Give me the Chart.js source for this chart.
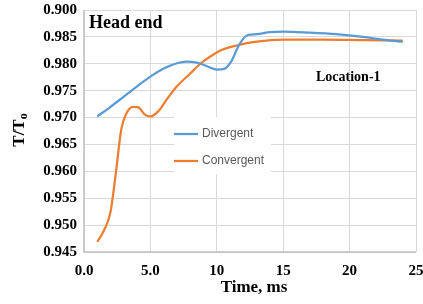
<!DOCTYPE html>
<html>
<head>
<meta charset="utf-8">
<script src="https://cdn.jsdelivr.net/npm/chart.js@4/dist/chart.umd.min.js"></script>
<style>
html,body{margin:0;padding:0;background:#fff;}
#wrap{width:423px;height:304px;position:relative;}
</style>
</head>
<body>
<div id="wrap"><canvas id="c" width="423" height="304"></canvas></div>
<script>
// Data
const divergentX = [1.0, 2.0, 3.0, 4.0, 5.0, 6.0, 7.0, 7.7, 8.5, 9.3, 10.0, 10.6, 11.1, 11.7, 12.3, 13.0, 14.0, 15.0, 17.0, 19.0, 21.0, 22.5, 24.0];
const divergentY = [0.9702, 0.9720, 0.9739, 0.9758, 0.9776, 0.9791, 0.9801, 0.9804, 0.9802, 0.9795, 0.9789, 0.9791, 0.9805, 0.9836, 0.9853, 0.9855, 0.9859, 0.9860, 0.9858, 0.9855, 0.9850, 0.9845, 0.9841];
const convergentX = [1.0, 1.5, 2.0, 2.4, 2.8, 3.2, 3.7, 4.1, 4.6, 5.0, 5.6, 6.3, 7.0, 8.0, 8.8, 9.6, 10.4, 11.5, 13.0, 15.0, 18.0, 21.0, 24.0];
const convergentY = [0.9469, 0.9490, 0.9525, 0.9597, 0.9677, 0.9708, 0.9720, 0.9719, 0.9705, 0.9702, 0.9712, 0.9736, 0.9758, 0.9782, 0.9801, 0.9815, 0.9826, 0.9834, 0.9841, 0.9845, 0.9845, 0.9844, 0.9843];
const seriesNames = ["Divergent", "Convergent"];
const xTickLabels = ["0.0", "5.0", "10", "15", "20", "25"];
const yTickLabels = ["0.945", "0.950", "0.955", "0.960", "0.965", "0.970", "0.975", "0.980", "0.985", "0.900"];
const chartTitle = "Head end";
const locationLabel = "Location-1";
const xTitle = "Time, ms";

const BLUE = "#5b9bd5", ORANGE = "#ed7d31";
const toPts = (xs, ys) => xs.map((x, i) => ({x: x, y: ys[i]}));

const overlay = {
  id: "overlay",
  afterDraw(chart) {
    const ctx = chart.ctx, a = chart.chartArea;
    ctx.save();
    ctx.strokeStyle = "#bfbfbf"; ctx.lineWidth = 1.5;
    ctx.beginPath();
    ctx.moveTo(a.left, a.top); ctx.lineTo(a.left, a.bottom); ctx.lineTo(a.right, a.bottom);
    ctx.stroke();
    ctx.fillStyle = "#000";
    ctx.textBaseline = "middle"; ctx.textAlign = "left";
    ctx.font = "bold 18px 'Liberation Serif'";
    ctx.fillText(chartTitle, a.left + 5, 23);
    ctx.font = "bold 14px 'Liberation Serif'";
    ctx.fillText(locationLabel, 316, 77);
    ctx.textAlign = "center";
    ctx.font = "bold 17px 'Liberation Serif'";
    ctx.fillText(xTitle, 254, 288);
    ctx.save();
    ctx.translate(20, 130);
    ctx.rotate(-Math.PI / 2);
    ctx.font = "bold 17px 'Liberation Serif'";
    ctx.textAlign = "left";
    const main = "T/T";
    const w = ctx.measureText(main).width;
    ctx.font = "bold 12px 'Liberation Serif'";
    const sw = ctx.measureText("o").width;
    const start = -(w + sw) / 2;
    ctx.font = "bold 17px 'Liberation Serif'";
    ctx.fillText(main, start, 0);
    ctx.font = "bold 12px 'Liberation Serif'";
    ctx.fillText("o", start + w, 4);
    ctx.restore();
    ctx.fillStyle = "#fff";
    ctx.fillRect(174, 117, 97, 57);
    const items = [[seriesNames[0], BLUE, 134], [seriesNames[1], ORANGE, 161]];
    ctx.textAlign = "left";
    ctx.font = "12px 'Liberation Sans'";
    items.forEach(([t, col, y]) => {
      ctx.strokeStyle = col; ctx.lineWidth = 2.25;
      ctx.beginPath(); ctx.moveTo(174, y); ctx.lineTo(198, y); ctx.stroke();
      ctx.fillStyle = "#595959";
      ctx.fillText(t, 202, y);
    });
    ctx.restore();
  }
};

new Chart(document.getElementById("c"), {
  type: "line",
  data: {
    datasets: [
      {label: seriesNames[0], data: toPts(divergentX, divergentY), borderColor: BLUE, borderWidth: 2.25, pointRadius: 0, cubicInterpolationMode: "monotone", fill: false},
      {label: seriesNames[1], data: toPts(convergentX, convergentY), borderColor: ORANGE, borderWidth: 2.25, pointRadius: 0, cubicInterpolationMode: "monotone", fill: false}
    ]
  },
  options: {
    responsive: false,
    animation: false,
    devicePixelRatio: 1,
    layout: {padding: {top: 10, right: 7, left: 0, bottom: 0}},
    plugins: {legend: {display: false}, tooltip: {enabled: false}},
    scales: {
      x: {
        type: "linear", min: 0, max: 25,
        afterFit(s) { s.height = 52; s.paddingLeft = 0; s.paddingRight = 0; },
        border: {display: false},
        grid: {color: "#d9d9d9", lineWidth: 1, drawTicks: false},
        ticks: {
          stepSize: 5, padding: 10, color: "#000", maxRotation: 0,
          font: {family: "'Liberation Serif'", size: 15, weight: "bold"},
          callback: (v) => xTickLabels[Math.round(v / 5)]
        }
      },
      y: {
        type: "linear", min: 0.945, max: 0.990,
        afterFit(s) { s.width = 84; s.paddingTop = 0; s.paddingBottom = 0; },
        border: {display: false},
        grid: {color: "#d9d9d9", lineWidth: 1, drawTicks: false},
        ticks: {
          stepSize: 0.005, padding: 7, color: "#000",
          font: {family: "'Liberation Serif'", size: 15, weight: "bold"},
          callback: (v) => yTickLabels[Math.round((v - 0.945) / 0.005)]
        }
      }
    }
  },
  plugins: [overlay]
});
</script>
</body>
</html>
